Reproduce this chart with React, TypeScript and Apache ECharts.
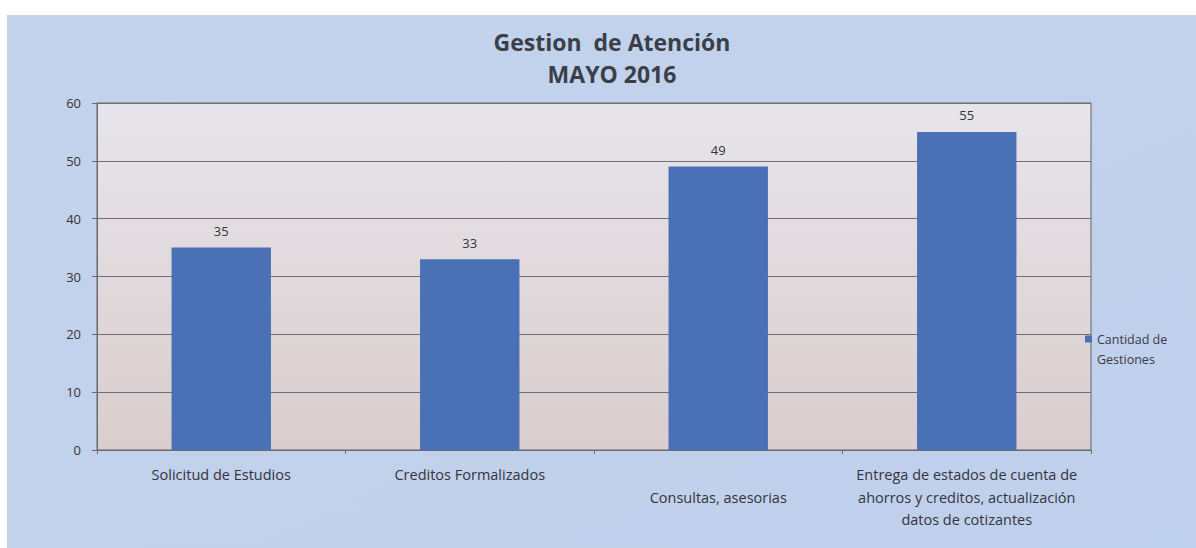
import React, { useEffect, useRef } from "react";
import * as echarts from "echarts";

const categories = [
  "Solicitud de Estudios",
  "Creditos Formalizados",
  "\nConsultas, asesorias",
  "Entrega de estados de cuenta de\nahorros y creditos, actualización\ndatos de cotizantes",
];
const values = [35, 33, 49, 55];
const seriesName = "Cantidad de Gestiones";
const titleLines = ["Gestion  de Atención", "MAYO 2016"];

export default function App() {
  const ref = useRef<HTMLDivElement>(null);
  useEffect(() => {
    if (!ref.current) return;
    const chart = echarts.init(ref.current, undefined, { renderer: "svg" });
    const font = "'Open Sans', Lato, sans-serif";
    chart.setOption({
      animation: false,
      backgroundColor: "#ffffff",
      textStyle: { fontFamily: font },
      graphic: [
        {
          type: "rect",
          silent: true,
          z: -10,
          shape: { x: 7, y: 15, width: 1189, height: 533 },
          style: {
            fill: new echarts.graphic.LinearGradient(0, 0, 1, 1, [
              { offset: 0, color: "#c4d3ec" },
              { offset: 1, color: "#bfd0ec" },
            ]),
          },
        },
      ],
      title: {
        text: titleLines.join("\n"),
        left: 607,
        textAlign: "center",
        top: 21,
        textStyle: {
          fontFamily: font,
          fontSize: 23,
          fontWeight: "bold",
          color: "#3b3f4a",
          lineHeight: 32,
        },
      },
      legend: {
        orient: "vertical",
        left: 1080,
        top: 304,
        itemWidth: 7,
        itemHeight: 7,
        itemGap: 4,
        icon: "rect",
        data: [seriesName],
        formatter: () => "\nCantidad de\nGestiones",
        textStyle: { fontFamily: font, fontSize: 12.5, color: "#3a3a48", lineHeight: 20 },
      },
      grid: {
        left: 97,
        right: 105,
        top: 103,
        bottom: 98,
        show: true,
        borderColor: "#62646c",
        borderWidth: 1,
        backgroundColor: new echarts.graphic.LinearGradient(0, 0, 0, 1, [
          { offset: 0, color: "#e7e5eb" },
          { offset: 1, color: "#dacdcd" },
        ]),
      },
      xAxis: {
        type: "category",
        data: categories,
        axisLine: { lineStyle: { color: "#6a6a70" } },
        axisTick: { show: true, length: 4, lineStyle: { color: "#6a6a70" } },
        axisLabel: {
          interval: 0,
          fontFamily: font,
          fontSize: 14.5,
          color: "#33343c",
          margin: 13.5,
          lineHeight: 22.5,
          verticalAlign: "top",
        },
      },
      yAxis: {
        type: "value",
        min: 0,
        max: 60,
        interval: 10,
        axisLine: { show: true, lineStyle: { color: "#6a6a70" } },
        axisTick: { show: true, length: 5, lineStyle: { color: "#6a6a70" } },
        axisLabel: { fontFamily: font, fontSize: 13, color: "#33343c", margin: 16 },
        splitLine: { lineStyle: { color: "#6f6f78", width: 1 } },
      },
      series: [
        {
          type: "bar",
          name: seriesName,
          data: values,
          barWidth: "40%",
          itemStyle: { color: "#4a70b6" },
          label: {
            show: true,
            position: "top",
            distance: 10,
            fontFamily: font,
            fontSize: 13,
            color: "#33343c",
          },
        },
      ],
    });
    return () => chart.dispose();
  }, []);
  return (
    <div style={{ position: "absolute", left: 0, top: 0, width: 1196, height: 548 }}>
      <div ref={ref} style={{ width: 1196, height: 548 }} />
    </div>
  );
}
